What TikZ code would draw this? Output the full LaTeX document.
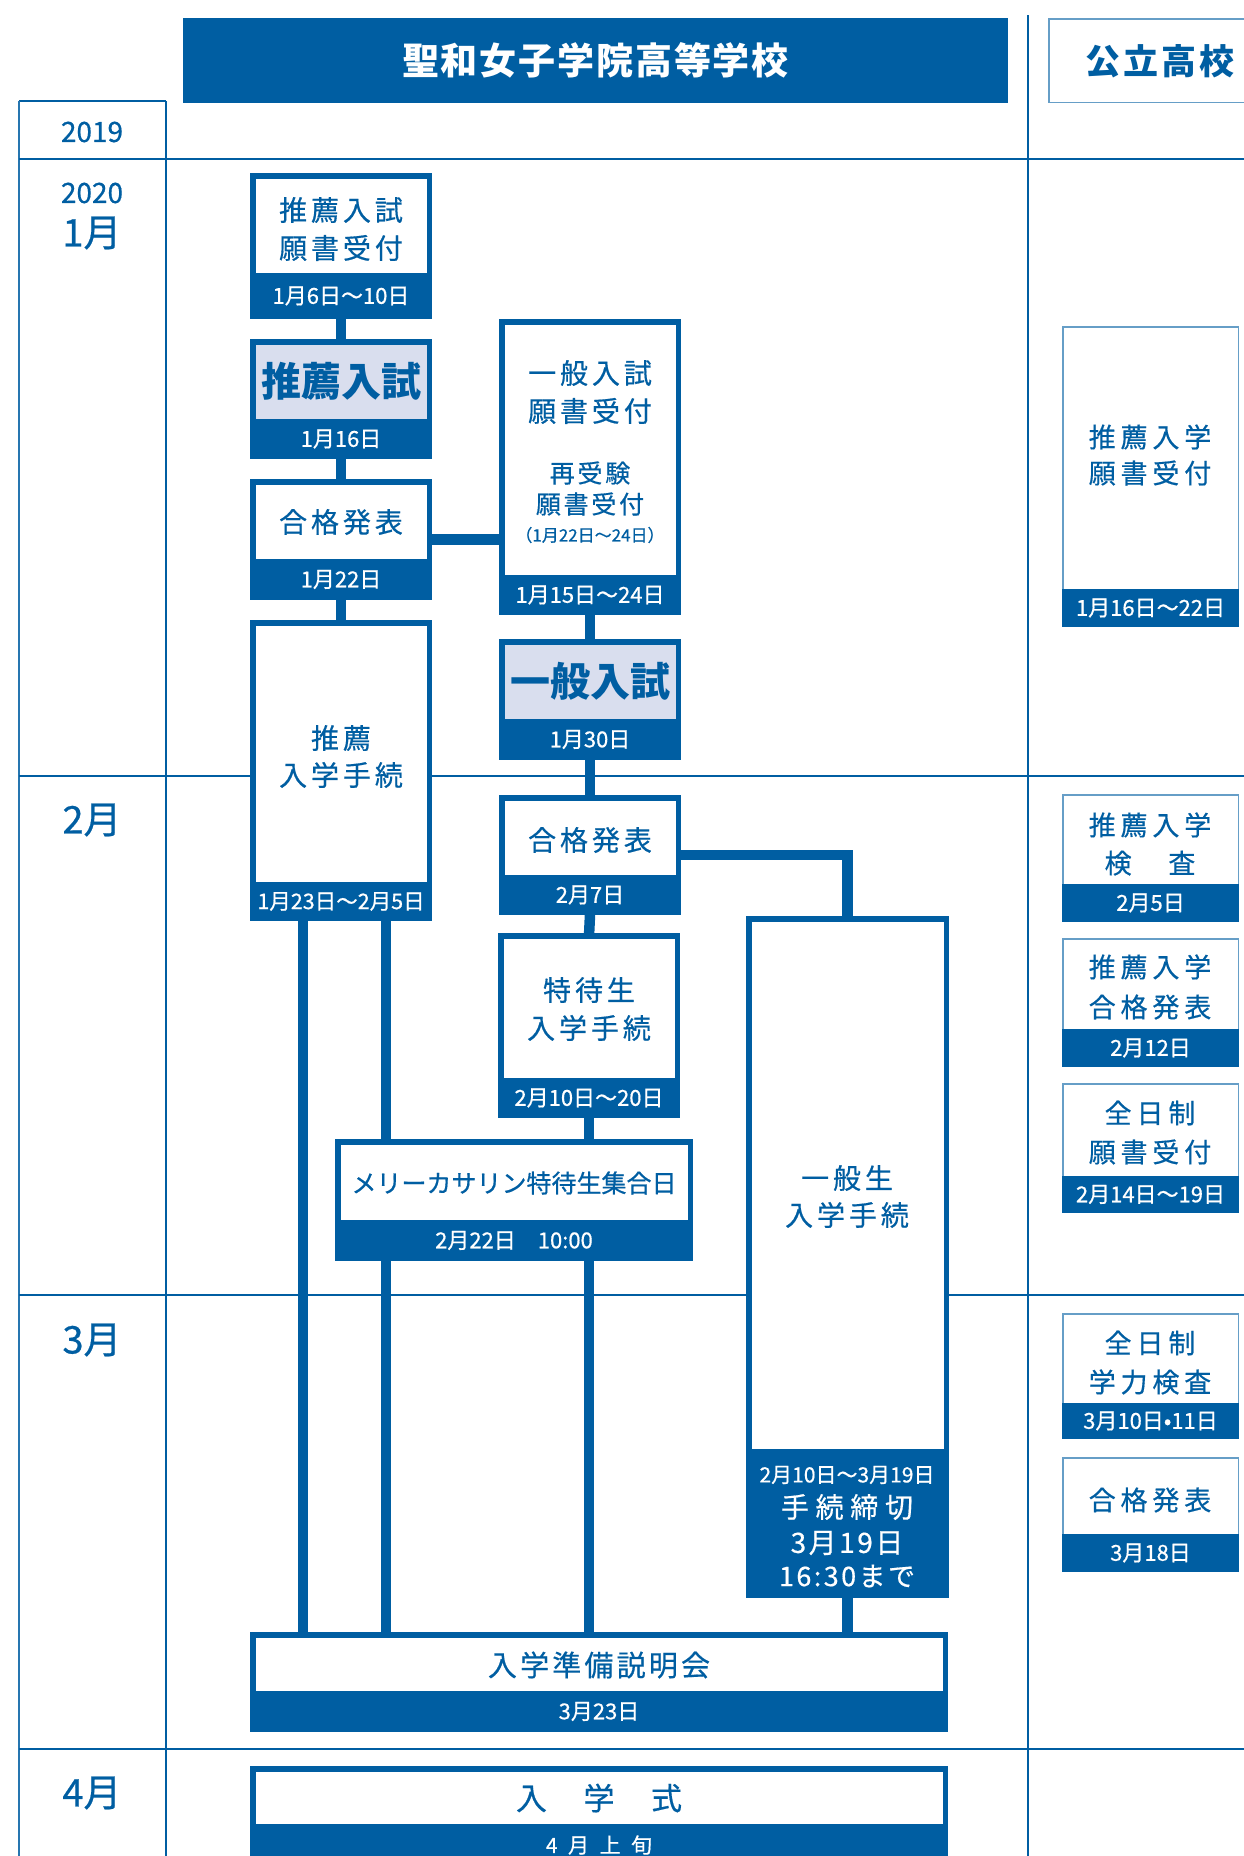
\documentclass[tikz,border=0pt]{standalone}
\usepackage{fontspec}
\setmainfont{Noto Sans CJK JP}
\newfontfamily\lsA[LetterSpace=14,FakeBold=0.5]{Noto Sans CJK JP}
\newfontfamily\lsB[LetterSpace=18,FakeBold=0.5]{Noto Sans CJK JP}
\newfontfamily\lsC[LetterSpace=50,FakeBold=0.6]{Noto Sans CJK JP}
\newfontfamily\lsD[LetterSpace=5]{Noto Sans CJK JP}
\newfontfamily\lsE[LetterSpace=24,FakeBold=0.5]{Noto Sans CJK JP}
\newfontfamily\lsF[LetterSpace=8]{Noto Sans CJK JP}
\newfontfamily\lsG[LetterSpace=11,FakeBold=0.5]{Noto Sans CJK JP}
\newfontfamily\lsH[LetterSpace=9,FakeBold=0.5]{Noto Sans CJK JP}
\newfontfamily\dtf[FakeBold=0.6]{Noto Sans CJK JP}
\newcommand\fsz[2]{\fontsize{#1}{#2}\selectfont}
\definecolor{cb}{RGB}{0,94,162}
\definecolor{lt}{RGB}{217,222,238}
\tikzset{
 mainbox/.style={draw=cb, line width=5.5pt, inner sep=0pt, outer sep=0pt, anchor=north west},
 thinbox/.style={draw=cb!60, line width=1.5pt, fill=white, inner sep=0pt, outer sep=0pt, anchor=north west},
 bandbox/.style={fill=cb, text=white, inner sep=0pt, outer sep=0pt, anchor=south west},
 ttl/.style={text=cb, align=center, inner sep=0pt},
 wtx/.style={text=white, align=center, inner sep=0pt},
 conn/.style={draw=cb, line width=10.5pt},
 gridln/.style={draw=cb, line width=1.5pt},
 mon/.style={text=cb, inner sep=0pt},
}
% main box: name, x1, y1, x2, y2, bandtop, fill, bandtext, bandfont
\newcommand\mkbox[9]{%
 \pgfmathsetmacro\bxw{#4-#2-5.5}%
 \pgfmathsetmacro\bxh{#5-#3-5.5}%
 \pgfmathsetmacro\bxx{#2+2.75}%
 \pgfmathsetmacro\bxy{#3+2.75}%
 \pgfmathsetmacro\bdw{#4-#2}%
 \pgfmathsetmacro\bdh{#5-#6}%
 \node[mainbox,fill=#7,minimum width=\bxw pt,minimum height=\bxh pt] (#1) at (\bxx,\bxy) {};
 \node[bandbox,font=#9,minimum width=\bdw pt,minimum height=\bdh pt] (#1d) at (#2,#5) {#8};
}
% right thin box: name, y1, y2, bandtop, bandtext
\newcommand\rbox[5]{%
 \pgfmathsetmacro\bxh{#3-#2-1.5}%
 \pgfmathsetmacro\bxy{#2+0.75}%
 \pgfmathsetmacro\bdh{#3-#4}%
 \node[thinbox,minimum width=175.5pt,minimum height=\bxh pt] (#1) at (1062.75,\bxy) {};
 \node[bandbox,font=\dtf\fsz{22}{26},minimum width=177pt,minimum height=\bdh pt] (#1d) at (1062,#3) {#5};
}
\begin{document}
\begin{tikzpicture}[x=1pt,y=-1pt]
\useasboundingbox (0,0) rectangle (1244,1856);
\clip (0,0) rectangle (1244,1856);
% grid
\draw[gridln] (19,101) -- (166,101);
\draw[draw=cb!85, line width=2.5pt] (19,101) -- (19,1856);
\draw[gridln] (166,101) -- (166,1856);
\draw[draw=cb, line width=2pt] (1028,15) -- (1028,1856);
\draw[draw=cb, line width=2.5pt] (19,159) -- (1244,159);
\draw[gridln] (19,776) -- (1244,776);
\draw[gridln] (19,1295) -- (1244,1295);
\draw[draw=cb, line width=2pt] (19,1749) -- (1244,1749);
% header
\node[fill=cb, minimum width=825pt, minimum height=85pt, inner sep=0pt, text=white, font=\lsD\bfseries\fsz{37}{40}] (hd) at (595.5,60.5) {聖和女子学院高等学校};
\node[thinbox, minimum width=210pt, minimum height=83.5pt] (kk) at (1048.75,18.75) {};
\node[ttl, font=\lsF\bfseries\fsz{35}{40}] (kkt) at (1160,61) {公立高校};
% month labels
\node[mon, font=\dtf\fsz{28}{30}] (y19) at (92,132) {2019};
\node[mon, font=\dtf\fsz{28}{30}] (y20) at (92,193) {2020};
\node[mon, font=\dtf\fsz{38}{40}] (mo1) at (92,233) {1月};
\node[mon, font=\dtf\fsz{38}{40}] (mo2) at (92,820) {2月};
\node[mon, font=\dtf\fsz{38}{40}] (mo3) at (92,1340) {3月};
\node[mon, font=\dtf\fsz{38}{40}] (mo4) at (92,1793) {4月};
% main column boxes
\mkbox{b1}{250}{173}{432}{319}{273}{white}{1月6日〜10日}{\dtf\fsz{22}{24}}
\mkbox{b2}{250}{339}{432}{459}{419}{lt}{1月16日}{\dtf\fsz{22}{24}}
\mkbox{b3}{250}{479}{432}{600}{559}{white}{1月22日}{\dtf\fsz{22}{24}}
\mkbox{b4}{250}{620}{432}{921}{882}{white}{1月23日〜2月5日}{\dtf\fsz{21.5}{24}}
\mkbox{m1}{499}{319}{681}{615}{575}{white}{1月15日〜24日}{\dtf\fsz{22}{24}}
\mkbox{m2}{499}{639}{681}{760}{719}{lt}{1月30日}{\dtf\fsz{22}{24}}
\mkbox{m3}{499}{795}{681}{915}{875}{white}{2月7日}{\dtf\fsz{22}{24}}
\mkbox{m4}{498}{933}{680}{1118}{1078}{white}{2月10日〜20日}{\dtf\fsz{22}{24}}
\mkbox{mk}{335}{1139}{693}{1261}{1220}{white}{2月22日　10:00}{\dtf\fsz{22}{24}}
\mkbox{ip}{746}{916}{949}{1598}{1449}{white}{}{\dtf\fsz{22}{24}}
\mkbox{jb}{250}{1632}{948}{1732}{1691}{white}{3月23日}{\dtf\fsz{22}{24}}
\mkbox{ns}{250}{1766}{948}{1866}{1824}{white}{\lsC 4月上旬}{\fsz{21}{24}}
% titles
\node[ttl, font=\lsA\fsz{28}{38}] (b1t) at (341,229) {推薦入試\\願書受付};
\node[ttl, font=\bfseries\fsz{40}{44}] (b2t) at (341,381) {推薦入試};
\node[ttl, font=\lsA\fsz{28}{38}] (b3t) at (341,522) {合格発表};
\node[ttl, font=\lsA\fsz{28}{37}] (b4t) at (341,756.5) {推薦\\入学手続};
\node[ttl, font=\lsA\fsz{28}{38}] (m1t) at (590,392) {一般入試\\願書受付};
\node[ttl, font=\lsG\fsz{25}{31}] (m1u) at (590,488.5) {再受験\\願書受付};
\node[ttl, font=\dtf\fsz{17}{20}] (m1v) at (590,535) {（1月22日〜24日）};
\node[ttl, font=\bfseries\fsz{40}{44}] (m2t) at (590,681) {一般入試};
\node[ttl, font=\lsA\fsz{28}{38}] (m3t) at (590,840) {合格発表};
\node[ttl, font=\lsA\fsz{28}{38}] (m4t) at (589,1009) {特待生\\入学手続};
\node[ttl, font=\dtf\fsz{25}{30}] (mkt) at (514,1183) {メリーカサリン特待生集合日};
\node[ttl, font=\lsA\fsz{28}{37}] (ipt) at (847,1196.5) {一般生\\入学手続};
\node[wtx, font=\dtf\fsz{21}{24}] (ipa) at (847,1475) {2月10日〜3月19日};
\node[wtx, font=\lsE\fsz{28}{30}] (ipb) at (847,1507) {手続締切};
\node[wtx, font=\lsH\fsz{28}{30}] (ipc) at (847,1543) {3月19日};
\node[wtx, font=\lsH\fsz{27}{30}] (ipe) at (847,1576) {16:30まで};
\node[ttl, font=\lsG\fsz{29}{32}] (jbt) at (599,1665) {入学準備説明会};
\node[ttl, font=\lsH\fsz{31}{34}] (nst) at (599,1798) {入　学　式};
% right column
\rbox{r1}{326}{627}{589}{1月16日〜22日}
\rbox{r2}{794}{922}{884}{2月5日}
\rbox{r3}{938}{1067}{1029}{2月12日}
\rbox{r4}{1083}{1213}{1176}{2月14日〜19日}
\rbox{r5}{1313}{1439}{1403}{3月10日•11日}
\rbox{r6}{1457}{1572}{1534}{3月18日}
\node[ttl, font=\lsB\fsz{27}{36}] (r1t) at (1150,455) {推薦入学\\願書受付};
\node[ttl, font=\lsB\fsz{27}{38}] (r2t) at (1150,844) {推薦入学\\検　査};
\node[ttl, font=\lsB\fsz{27}{40}] (r3t) at (1150,987) {推薦入学\\合格発表};
\node[ttl, font=\lsB\fsz{27}{39}] (r4t) at (1150,1132.5) {全日制\\願書受付};
\node[ttl, font=\lsB\fsz{27}{39}] (r5t) at (1150,1362.5) {全日制\\学力検査};
\node[ttl, font=\lsB\fsz{27}{38}] (r6t) at (1150,1500) {合格発表};
% connectors
\draw[conn] (b1d.south) -- (b2.north);
\draw[conn] (b2d.south) -- (b3.north);
\draw[conn] (b3d.south) -- (b4.north);
\draw[conn] (b3.east) -- (b3.east -| m1.west);
\draw[conn] (m1d.south) -- (m2.north);
\draw[conn] (m2d.south) -- (m3.north);
\draw[conn] (m3d.south) -- (m4.north);
\draw[conn] (m3.east) -| (ip.north);
\draw[conn] (m4d.south) -- (m4d.south |- mk.north);
\draw[conn] (m4d.south |- mkd.south) -- (m4d.south |- jb.north);
\draw[conn] (ipd.south) -- (ipd.south |- jb.north);
\path (b4d.south west) ++(53,0) coordinate (p1);
\path (b4d.south west) ++(136,0) coordinate (p2);
\draw[conn] (p1) -- (p1 |- jb.north);
\draw[conn] (p2) -- (p2 |- mk.north);
\draw[conn] (p2 |- mkd.south) -- (p2 |- jb.north);
\end{tikzpicture}
\end{document}
